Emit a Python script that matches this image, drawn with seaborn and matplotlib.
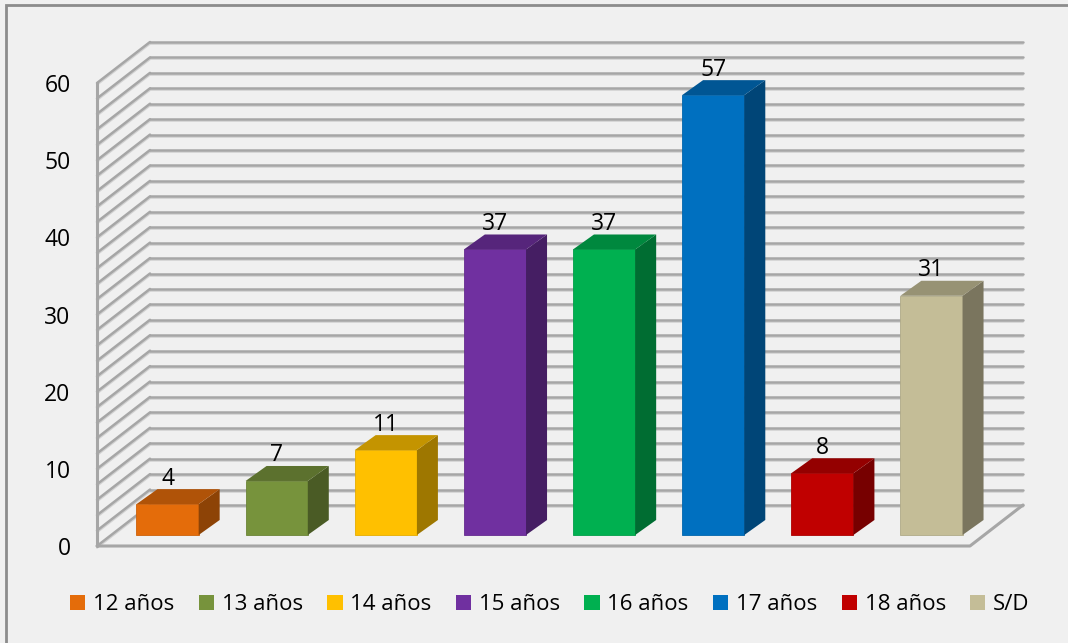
import numpy as np
import pandas as pd
import matplotlib
matplotlib.use('Agg')
import matplotlib.pyplot as plt
import matplotlib.colors as mcolors
from matplotlib.patches import Polygon, Patch, Rectangle
import seaborn as sns

# Datos
categorias = ['12 años', '13 años', '14 años', '15 años', '16 años', '17 años', '18 años', 'S/D']
valores = [4, 7, 11, 37, 37, 57, 8, 31]
colores = ['#E46C0A', '#77933C', '#FFC000', '#7030A0', '#00B050', '#0070C0', '#C00000', '#C4BD97']
yticks = [0, 10, 20, 30, 40, 50, 60]

df = pd.DataFrame({'edad': categorias, 'n': valores})

sns.set_theme(style='white')
plt.rcParams['font.family'] = ['Open Sans', 'DejaVu Sans']
plt.rcParams['text.color'] = 'black'
plt.rcParams['ytick.color'] = 'black'
plt.rcParams['ytick.labelcolor'] = 'black'

W, H = 1068, 643
fig = plt.figure(figsize=(W / 100, H / 100), dpi=100)
fig.patch.set_facecolor('#f0f0f0')

# borde del area del grafico
fig.patches.append(Rectangle((6 / W, -0.1), 1.2, 1 - 5 / H + 0.1, transform=fig.transFigure,
                             facecolor='none', edgecolor='#8c8c8c', lw=2))

# plano frontal del grafico 3D
ax = fig.add_axes([97 / W, (H - 546) / H, (970 - 97) / W, (546 - 83) / H])
ax.set_facecolor('none')
ax.set_xlim(-0.5, len(categorias) - 0.5)
ax.set_ylim(0, 60)

ux = (970 - 97) / len(categorias)   # px por categoria
uy = (546 - 83) / 60                # px por unidad


def px(dx, dy):
    return dx / ux, dy / uy


bdx, bdy = px(53, 41)    # profundidad de las paredes
cdx, cdy = px(16, 11)    # plano de las barras
ddx, ddy = px(21, 15)    # profundidad de cada barra

grid_c = '#a6a6a6'
shadow_c = '#d2d2d2'
x0, x1 = -0.5, len(categorias) - 0.5
sh = 2 / uy

for v in range(0, 61, 2):
    # pared del fondo
    ax.plot([x0 + bdx, x1 + bdx], [v + bdy - sh, v + bdy - sh], color=shadow_c, lw=1.2, zorder=0, clip_on=False)
    ax.plot([x0 + bdx, x1 + bdx], [v + bdy, v + bdy], color=grid_c, lw=1.8, zorder=1, clip_on=False)
    # pared lateral
    ax.plot([x0, x0 + bdx], [v - sh, v + bdy - sh], color=shadow_c, lw=1.2, zorder=0, clip_on=False)
    ax.plot([x0, x0 + bdx], [v, v + bdy], color=grid_c, lw=1.8, zorder=1, clip_on=False)

# suelo y borde frontal
ax.plot([x0, x1, x1 + bdx], [0, 0, bdy], color=grid_c, lw=2.2, zorder=1, clip_on=False)
ax.plot([x0, x0], [0, 60], color=grid_c, lw=2.2, zorder=1, clip_on=False)

sns.barplot(data=df, x='edad', y='n', hue='edad', palette=colores, width=0.57,
            legend=False, ax=ax, saturation=1, zorder=3)

for p, val, c in zip(ax.patches, valores, colores):
    x = p.get_x() + cdx
    w = p.get_width()
    h = p.get_height()
    p.set_x(x)
    p.set_y(cdy)
    p.set_clip_on(False)
    p.set_edgecolor(mcolors.to_hex(np.array(mcolors.to_rgb(c)) * 0.9))
    p.set_linewidth(0.6)
    base = np.array(mcolors.to_rgb(c))
    side = Polygon([(x + w, cdy), (x + w + ddx, cdy + ddy), (x + w + ddx, cdy + h + ddy), (x + w, cdy + h)],
                   facecolor=base * 0.62, edgecolor='none', zorder=3, clip_on=False)
    top = Polygon([(x, cdy + h), (x + w, cdy + h), (x + w + ddx, cdy + h + ddy), (x + ddx, cdy + h + ddy)],
                  facecolor=base * 0.77, edgecolor='none', zorder=3, clip_on=False)
    ax.add_patch(side)
    ax.add_patch(top)
    ax.annotate(str(val), (x + w / 2, cdy + h + ddy), xytext=(0, -1), textcoords='offset points',
                ha='center', va='bottom', fontsize=16.5, color='black', zorder=5, annotation_clip=False)

sns.despine(ax=ax, left=True, bottom=True)
ax.set_xlabel('')
ax.set_ylabel('')
ax.set_xticks([])
ax.set_yticks(yticks)
ax.set_yticklabels([str(t) for t in yticks], fontsize=16.5, color='black')
ax.tick_params(axis='y', length=0, pad=19)

handles = [Patch(facecolor=c, edgecolor='none', label=l) for c, l in zip(colores, categorias)]
fig.legend(handles=handles, loc='center', bbox_to_anchor=(550 / W, 1 - 605 / H), ncol=len(categorias),
           frameon=False, fontsize=16, handlelength=0.68, handleheight=0.68, handletextpad=0.35,
           columnspacing=1.1, labelcolor='black')

fig.savefig('out.png', dpi=100, facecolor=fig.get_facecolor())
